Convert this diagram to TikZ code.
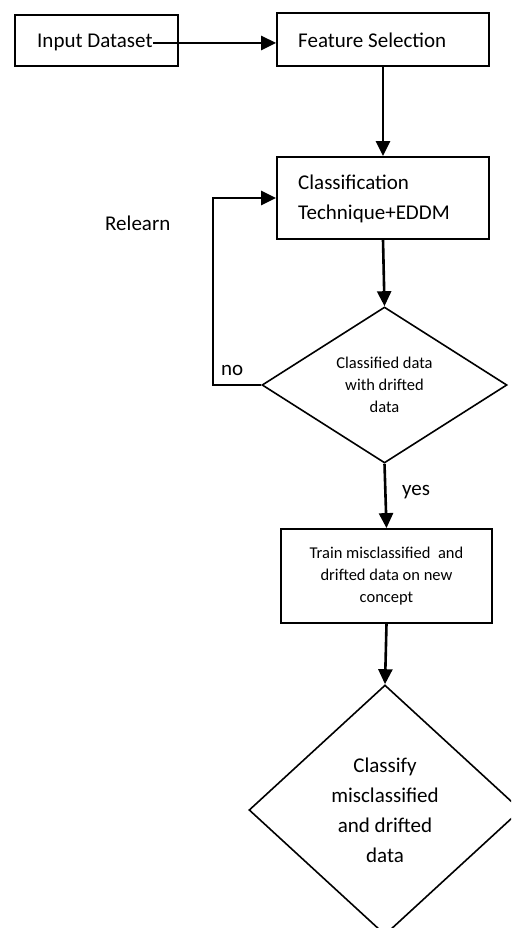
\documentclass[tikz,border=0pt]{standalone}
\usepackage{fontspec}
\setmainfont{Carlito}
\usetikzlibrary{arrows.meta,shapes.geometric}
\begin{document}
\begin{tikzpicture}[x=1pt,y=-1pt,
  boxnode/.style={draw,line width=1.8pt,rectangle,inner sep=0pt},
  bigtext/.style={font=\fontsize{21}{30}\selectfont,inner sep=0pt},
  smalltext/.style={font=\fontsize{16.5}{22}\selectfont,inner sep=0pt},
  decision/.style={draw,line width=1.6pt,shape=diamond,inner sep=0pt,align=center},
  flow/.style={line width=2.6pt,-{Triangle[length=15pt,width=14pt]}},
  plainline/.style={line width=2.6pt}]
\useasboundingbox (0,0) rectangle (511,928);
\clip (0,0) rectangle (511,928);
% boxes
\node[boxnode,minimum width=163pt,minimum height=51pt] (inbox) at (96.5,40.5) {};
\node[bigtext,anchor=base west] (intext) at (37,48) {Input Dataset};
\node[boxnode,minimum width=212pt,minimum height=53pt] (fsbox) at (383,39.5) {};
\node[bigtext,anchor=base west] (fstext) at (298,48) {Feature Selection};
\node[boxnode,minimum width=212pt,minimum height=82pt] (cl) at (383,198) {};
\node[bigtext,anchor=west,align=left] (cltext) at (298,199) {Classification\\Technique+EDDM};
\node[decision,smalltext,minimum width=245pt,minimum height=156pt] (d1) at (384.5,385)
  {Classified data\\with drifted\\data};
\node[boxnode,smalltext,minimum width=211pt,minimum height=94pt,align=center] (train) at (386.5,576)
  {Train misclassified\ \ and\\drifted data on new\\concept};
\node[decision,bigtext,minimum width=272pt,minimum height=250pt] (d2) at (385,810)
  {Classify\\misclassified\\and drifted\\data};
% labels
\node[bigtext,anchor=base west] (relearn) at (105,230) {Relearn};
\node[bigtext,anchor=base west] (nolab) at (221,375) {no};
\node[bigtext,anchor=base west] (yeslab) at (402,495) {yes};
% connectors
\draw[flow] (intext.east) -- (intext.east -| fsbox.west);
\draw[flow] (fsbox.south) -- (cl.north);
\draw[flow] (cl.south) -- (d1.north);
\coordinate (loopc) at (213,385);
\draw[flow] (d1.west) -- (loopc) |- (cl.west);
\draw[flow] (d1.south) -- (train.north);
\draw[flow] (train.south) -- (d2.north);
\end{tikzpicture}
\end{document}
